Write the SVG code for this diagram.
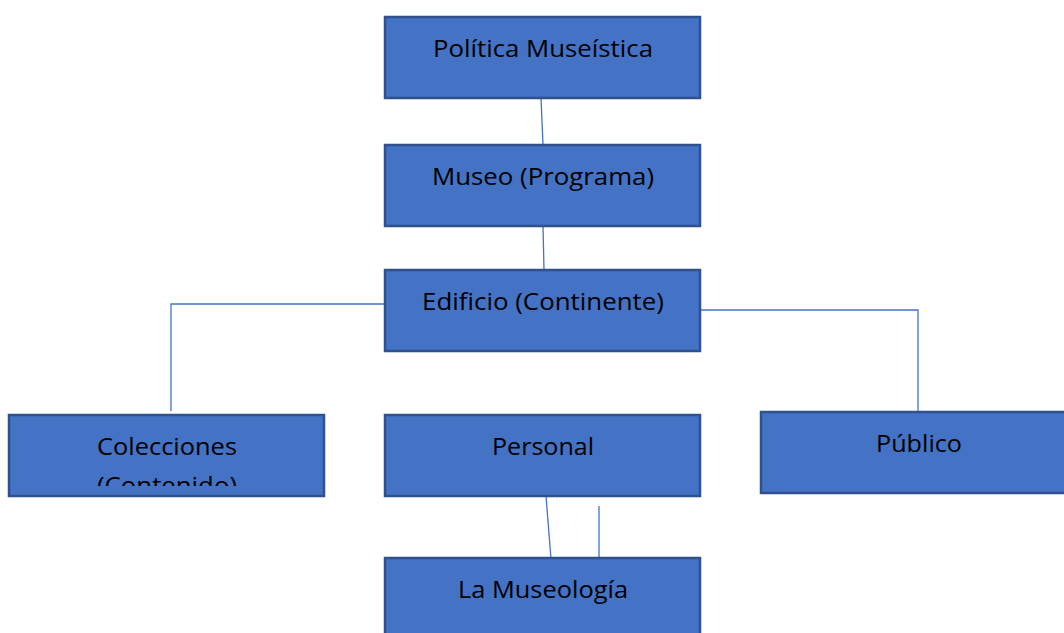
<svg xmlns="http://www.w3.org/2000/svg" width="1064" height="633" viewBox="0 0 1064 633">
<style>
.box{fill:#4472C4;stroke:#2F528F;stroke-width:2.5}
.lbl{font-family:"Open Sans","Liberation Sans",Arial,sans-serif;font-size:23px;fill:#000;text-anchor:middle}
.con{fill:none;stroke:#4472C4;stroke-width:1.3}
</style>
<defs>
<clipPath id="clipCol"><rect x="9" y="415" width="316" height="71"/></clipPath>
</defs>
<g id="connectors">
<path class="con" d="M541 98 L543 145"/>
<path class="con" d="M543 226 L544 270"/>
<path class="con" d="M385 304 H171 V411"/>
<path class="con" d="M700 310 H918 V412"/>
<path class="con" d="M546 496 L551 559"/>
<path class="con" d="M599 506 V559"/>
</g>
<g id="politica">
<rect class="box" x="385" y="17" width="315" height="81"/>
<text class="lbl" x="543" y="57" textLength="220" lengthAdjust="spacingAndGlyphs">Política Museística</text>
</g>
<g id="museo">
<rect class="box" x="385" y="145" width="315" height="81"/>
<text class="lbl" x="543" y="185" textLength="222" lengthAdjust="spacingAndGlyphs">Museo (Programa)</text>
</g>
<g id="edificio">
<rect class="box" x="385" y="270" width="315" height="81"/>
<text class="lbl" x="543" y="310" textLength="242" lengthAdjust="spacingAndGlyphs">Edificio (Continente)</text>
</g>
<g id="colecciones">
<rect class="box" x="9" y="415" width="315" height="81"/>
<g clip-path="url(#clipCol)">
<text class="lbl" x="167" y="455" textLength="140" lengthAdjust="spacingAndGlyphs">Colecciones</text>
<text class="lbl" x="167" y="494" textLength="140" lengthAdjust="spacingAndGlyphs">(Contenido)</text>
</g>
</g>
<g id="personal">
<rect class="box" x="385" y="415" width="315" height="81"/>
<text class="lbl" x="543" y="455" textLength="102" lengthAdjust="spacingAndGlyphs">Personal</text>
</g>
<g id="publico">
<rect class="box" x="761" y="412" width="315" height="81"/>
<text class="lbl" x="919" y="452" textLength="86" lengthAdjust="spacingAndGlyphs">Público</text>
</g>
<g id="museologia">
<rect class="box" x="385" y="558" width="315" height="81"/>
<text class="lbl" x="543" y="598" textLength="170" lengthAdjust="spacingAndGlyphs">La Museología</text>
</g>
</svg>
